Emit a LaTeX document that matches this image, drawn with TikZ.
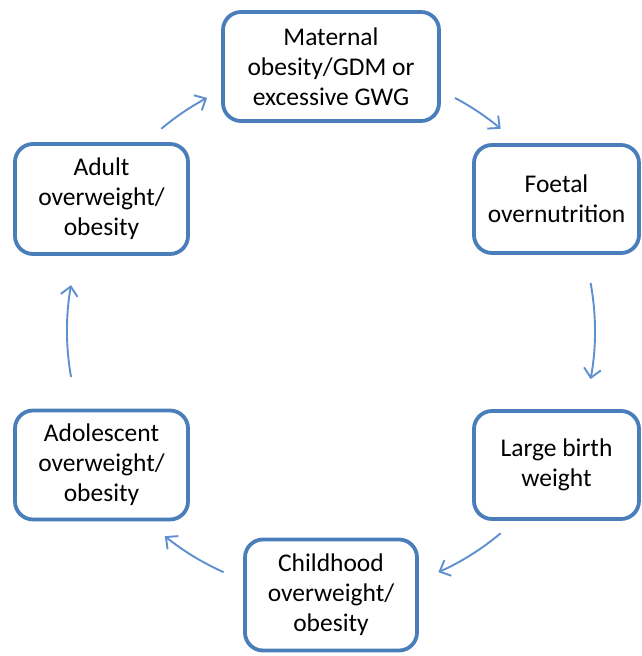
\documentclass[tikz,border=0pt]{standalone}
\usepackage{fontspec}
\setmainfont{Carlito}
\usetikzlibrary{arrows.meta}
\definecolor{boxblue}{HTML}{4A7EBB}
\definecolor{arrowblue}{HTML}{5E8FCF}
\begin{document}
\begin{tikzpicture}[x=1pt,y=1pt,
  stagebox/.style={draw=boxblue, line width=3.8pt, rounded corners=18pt,
    fill=white, align=center, inner sep=0pt,
    font=\fontsize{25.5}{30}\selectfont, text=black},
  cyclearrow/.style={draw=arrowblue, line width=1.9pt,
    -{Straight Barb[length=9pt,width=17pt,line width=1.9pt]}}]
  \useasboundingbox (0,0) rectangle (642,656);
  \fill[white] (0,0) rectangle (642,656);

  % stages of the cycle
  \node[stagebox, minimum width=216pt, minimum height=109pt] (mat) at (331,589.5)
    {Maternal\\obesity/GDM or\\excessive GWG};
  \node[stagebox, minimum width=165pt, minimum height=108pt] (foe) at (556.5,457)
    {Foetal\\overnutrition};
  \node[stagebox, minimum width=165pt, minimum height=108pt] (lbw) at (556.5,191)
    {Large birth\\weight};
  \node[stagebox, minimum width=172pt, minimum height=111pt] (chi) at (331,61)
    {Childhood\\overweight/\\obesity};
  \node[stagebox, minimum width=173pt, minimum height=109pt] (ado) at (101.5,191)
    {Adolescent\\overweight/\\obesity};
  \node[stagebox, minimum width=173pt, minimum height=110pt] (adu) at (101.5,457)
    {Adult\\overweight/\\obesity};

  % arrows run along one circle around the middle
  \coordinate (mid) at (331,325);
  \draw[cyclearrow] (mid) ++(130:264) arc[start angle=130, end angle=118, radius=264];
  \draw[cyclearrow] (mid) ++(62:264) arc[start angle=62, end angle=50, radius=264];
  \draw[cyclearrow] (mid) ++(10.5:264) arc[start angle=10.5, end angle=-10.5, radius=264];
  \draw[cyclearrow] (mid) ++(-50:264) arc[start angle=-50, end angle=-66, radius=264];
  \draw[cyclearrow] (mid) ++(-114:264) arc[start angle=-114, end angle=-129, radius=264];
  \draw[cyclearrow] (mid) ++(190:264) arc[start angle=190, end angle=170, radius=264];
\end{tikzpicture}
\end{document}
